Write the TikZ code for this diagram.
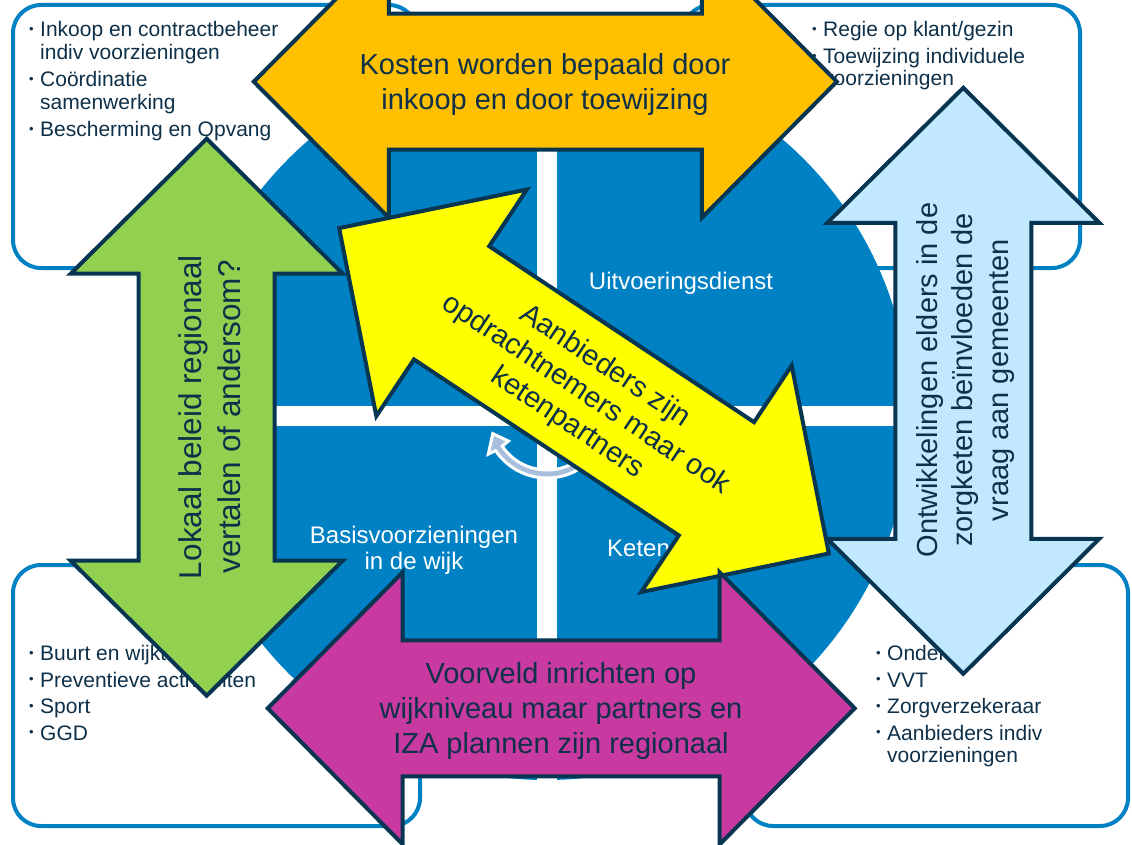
\documentclass[tikz,border=0pt]{standalone}
\usepackage{fontspec}
\setmainfont{Liberation Sans}
\usepackage{xcolor}
\usetikzlibrary{arrows.meta}

\definecolor{ringblue}{HTML}{0081C3}
\definecolor{inkdark}{HTML}{0E3049}
\definecolor{edgedark}{HTML}{083552}
\definecolor{costorange}{HTML}{FFC000}
\definecolor{policygreen}{HTML}{92D050}
\definecolor{fieldmagenta}{HTML}{C83AA0}
\definecolor{chainblue}{HTML}{C1E8FC}
\definecolor{supplyyellow}{HTML}{FFFF00}
\definecolor{cyclegrey}{HTML}{A7BEDC}

\tikzset{
  cornerbox/.style={draw=ringblue, line width=4pt, fill=white, rounded corners=28pt},
  listtext/.style={inner sep=0pt, anchor=base west, align=left, text=inkdark, font=\fontsize{21}{22.5}\selectfont},
  quadtext/.style={inner sep=0pt, text=white, align=center, font=\fontsize{24}{26}\selectfont},
  arrowshape/.style={draw=edgedark, line width=4pt, line join=miter},
  arrowtext/.style={inner sep=0pt, align=center, text=inkdark}
}

\newcommand{\itm}{\makebox[11pt][l]{\raisebox{3.3pt}{\fontsize{13}{13}\selectfont\textbullet}}}
\newcommand{\ind}{\hspace*{11pt}}
% double arrow: centre, angle, tip-to-tip length, fill
\newcommand{\dblarrow}[4]{%
  \begin{scope}[shift={#1}, rotate=#2]
    \draw[arrowshape, fill=#4] ({-#3/2},0) -- ({-#3/2+135},-136) -- ({-#3/2+135},-68)
      -- ({#3/2-135},-68) -- ({#3/2-135},-136) -- ({#3/2},0) -- ({#3/2-135},136)
      -- ({#3/2-135},68) -- ({-#3/2+135},68) -- ({-#3/2+135},136) -- cycle;
  \end{scope}}

\begin{document}
\begin{tikzpicture}[x=1pt, y=-1pt]
        \useasboundingbox (0,0) rectangle (1132,845);
        \clip (0,0) rectangle (1132,845);

        % Draw the four corner boxes
        \draw[cornerbox] (13,5) rectangle (417,268);
        \draw[cornerbox] (683,5) rectangle (1080,268);
        \draw[cornerbox] (13,565) rectangle (420,826);
        \draw[cornerbox] (745,565) rectangle (1128,826);

        % Bullet lists in the boxes (placed at the baseline of their last line)
        \node[listtext] (inkoop) at (29,136.7) {\itm Inkoop en contractbeheer\\ \ind indiv voorzieningen\\[5pt] \itm Coördinatie\\ \ind samenwerking\\[5pt] \itm Bescherming en Opvang};
        \node[listtext] (regie) at (812,86) {\itm Regie op klant/gezin\\[4.5pt] \itm Toewijzing individuele\\ \ind voorzieningen};
        \node[listtext] (buurt) at (29,740) {\itm Buurt en wijkteams\\[4pt] \itm Preventieve activiteiten\\[4pt] \itm Sport\\[4pt] \itm GGD};
        \node[listtext] (onderwijs) at (876,762.7) {\itm Onderwijs\\[4pt] \itm VVT\\[4pt] \itm Zorgverzekeraar\\[4pt] \itm Aanbieders indiv\\ \ind voorzieningen};

        % Draw the blue circle with the white cross
        \fill[ringblue] (546,416) circle[radius=364];
        \begin{scope}
          \clip (546,416) circle[radius=364];
          \fill[white] (537,40) rectangle (557,790);
          \fill[white] (170,406) rectangle (920,426);
        \end{scope}

        % Quadrant labels
        \node[quadtext, anchor=base] (uitvoering) at (681,289.3) {Uitvoeringsdienst};
        \node[quadtext, anchor=base] (basis) at (414,569) {Basisvoorzieningen\\in de wijk};
        \node[quadtext, anchor=base west] (keten) at (607,556) {Ketenpartners};

        % Draw curved arrow in the middle
        \coordinate (hub) at (547,416);
        \filldraw[fill=cyclegrey, draw=white, line width=3pt, line join=miter]
          ([shift={(hub)}]20:62) arc[start angle=20, end angle=146, radius=62]
          -- ([shift={(hub)}]147:70) -- ([shift={(hub)}]162:57) -- ([shift={(hub)}]147:46)
          -- ([shift={(hub)}]146:54) arc[start angle=146, end angle=20, radius=54] -- cycle;

        % Green arrow (left)
        \dblarrow{(206.7,417.2)}{90}{557}{policygreen}
        \node[arrowtext, font=\fontsize{31.5}{39}\selectfont, rotate=90] (lokaal) at (210,417) {Lokaal beleid regionaal\\vertalen of andersom?};

        % Light blue arrow (right)
        \dblarrow{(963.3,380.8)}{90}{586}{chainblue}
        \node[arrowtext, font=\fontsize{29}{35.5}\selectfont, rotate=90] (ontwikkel) at (965,380) {Ontwikkelingen elders in de\\zorgketen beïnvloeden de\\vraag aan gemeenten};

        % Orange arrow (top)
        \dblarrow{(545.3,81.7)}{0}{583}{costorange}
        \node[arrowtext, font=\fontsize{29}{35}\selectfont] (kosten) at (545,85) {Kosten worden bepaald door\\inkoop en door toewijzing};

        % Yellow arrow (diagonal)
        \dblarrow{(584,390.8)}{-33.6}{588}{supplyyellow}
        \node[arrowtext, font=\fontsize{29}{34}\selectfont, rotate=-33.6] (aanbieders) at (586,395) {Aanbieders zijn\\opdrachtnemers maar ook\\ketenpartners};

        % Magenta arrow (bottom)
        \dblarrow{(561.2,708.3)}{0}{587}{fieldmagenta}
        \node[arrowtext, font=\fontsize{29}{35}\selectfont] (voorveld) at (561,711) {Voorveld inrichten op\\wijkniveau maar partners en\\IZA plannen zijn regionaal};
\end{tikzpicture}
\end{document}
